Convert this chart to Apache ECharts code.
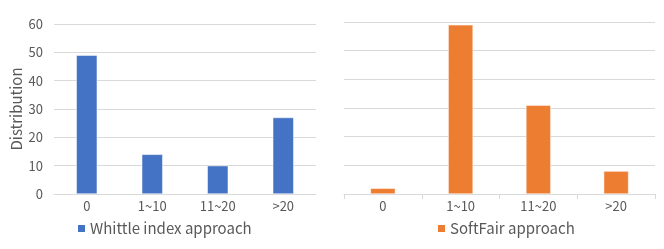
<!DOCTYPE html>
<html><head><meta charset="utf-8">
<script src="https://cdn.jsdelivr.net/npm/echarts@6/dist/echarts.min.js"></script>
<style>html,body{margin:0;padding:0;background:#fff}#c{width:664px;height:249px}</style>
</head><body><div id="c"></div>
<script>
const categories = ['0', '1~10', '11~20', '>20'];
const whittleValues = [49, 14, 10, 27];
const softfairValues = [2, 59, 31, 8];
const yTicks = [0, 10, 20, 30, 40, 50, 60];
const seriesNames = ['Whittle index approach', 'SoftFair approach'];
const yAxisName = 'Distribution';

const FONT = 'Noto Sans CJK SC';
const labelColor = '#595959';
const gridColor = '#D9D9D9';
const chart = echarts.init(document.getElementById('c'), null, {renderer: 'canvas'});
function xAxis(gi, ticks) {
  return {
    type: 'category', gridIndex: gi, data: categories,
    axisLine: {lineStyle: {color: gridColor}},
    axisTick: {show: ticks, alignWithLabel: false, length: 5, lineStyle: {color: gridColor}},
    axisLabel: {color: labelColor, fontFamily: FONT, fontSize: 13, margin: 6}
  };
}
function yAxis(gi, labels) {
  return {
    type: 'value', gridIndex: gi, min: yTicks[0], max: yTicks[yTicks.length - 1], interval: 10,
    name: labels ? yAxisName : '', nameLocation: 'middle', nameGap: 30,
    nameTextStyle: {color: labelColor, fontFamily: FONT, fontSize: 15},
    axisLine: {show: false}, axisTick: {show: false},
    axisLabel: {show: labels, color: labelColor, fontFamily: FONT, fontSize: 13, margin: 11},
    splitLine: {lineStyle: {color: gridColor}}
  };
}
const legendBase = {top: 221, padding: 0, itemWidth: 9, itemHeight: 9, itemGap: 4, icon: 'rect',
  textStyle: {color: labelColor, fontFamily: FONT, fontSize: 15, padding: [0, 0, 0, -1]}};
chart.setOption({
  animation: false,
  grid: [
    {left: 54, right: 348, top: 24, bottom: 55},
    {left: 344, right: 9, top: 22, bottom: 55}
  ],
  xAxis: [xAxis(0, false), xAxis(1, true)],
  yAxis: [yAxis(0, true), yAxis(1, false)],
  legend: [
    Object.assign({data: [seriesNames[0]], left: 76}, legendBase),
    Object.assign({data: [seriesNames[1]], left: 436}, legendBase)
  ],
  series: [
    {name: seriesNames[0], type: 'bar', xAxisIndex: 0, yAxisIndex: 0, data: whittleValues,
     barWidth: '32%', itemStyle: {color: '#4472C4', borderColor: '#fff', borderWidth: 0.5}},
    {name: seriesNames[1], type: 'bar', xAxisIndex: 1, yAxisIndex: 1, data: softfairValues,
     barWidth: '32%', itemStyle: {color: '#ED7D31', borderColor: '#fff', borderWidth: 0.5}}
  ]
});
</script></body></html>
